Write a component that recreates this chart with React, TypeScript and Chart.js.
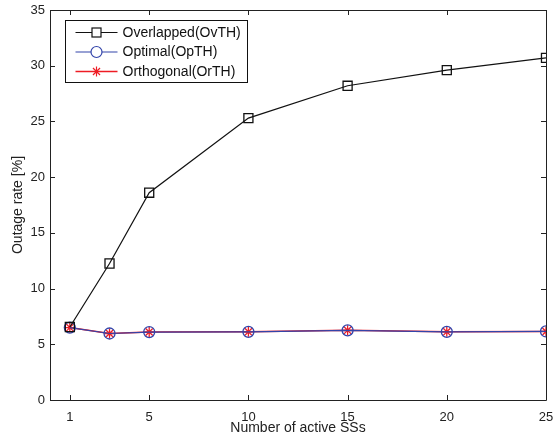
import React, { useEffect, useRef } from "react";
import { Chart, registerables } from "chart.js";

Chart.register(...registerables);

const xValues = [1, 3, 5, 10, 15, 20, 25];
const overlapped = [6.55, 12.25, 18.6, 25.3, 28.2, 29.6, 30.7];
const optimal = [6.5, 5.97, 6.1, 6.12, 6.25, 6.12, 6.15];
const orthogonal = [6.5, 5.97, 6.1, 6.12, 6.25, 6.12, 6.15];
const xTicks = [1, 5, 10, 15, 20, 25];
const yTicks = [0, 5, 10, 15, 20, 25, 30, 35];
const seriesNames = ["Overlapped(OvTH)", "Optimal(OpTH)", "Orthogonal(OrTH)"];

const FONT = "'Liberation Sans', Arial, Helvetica, sans-serif";
const BLUE = "#3344aa";
const RED = "#ee1c24";

const zeroPad = (s: any) => {
  s.paddingLeft = 0;
  s.paddingRight = 0;
  s.paddingTop = 0;
  s.paddingBottom = 0;
};

const framePlugin = {
  id: "frameAndLegend",
  afterDraw(chart: any) {
    const ctx = chart.ctx;
    const { left, right, top, bottom } = chart.chartArea;
    const xs = chart.scales.x;
    const ys = chart.scales.y;
    ctx.save();
    ctx.strokeStyle = "#222";
    ctx.lineWidth = 1;
    ctx.beginPath();
    ctx.rect(Math.round(left) + 0.5, Math.round(top) + 0.5, Math.round(right - left), Math.round(bottom - top));
    ctx.stroke();
    const tl = 5;
    ctx.beginPath();
    xTicks.forEach((v) => {
      const px = Math.round(xs.getPixelForValue(v)) + 0.5;
      ctx.moveTo(px, bottom);
      ctx.lineTo(px, bottom - tl);
      ctx.moveTo(px, top);
      ctx.lineTo(px, top + tl);
    });
    yTicks.forEach((v) => {
      const py = Math.round(ys.getPixelForValue(v)) + 0.5;
      ctx.moveTo(left, py);
      ctx.lineTo(left + tl, py);
      ctx.moveTo(right, py);
      ctx.lineTo(right - tl, py);
    });
    ctx.stroke();

    // legend
    const bx = Math.round(left) + 15.5;
    const by = Math.round(top) + 10.5;
    const bw = 182;
    const bh = 62;
    ctx.fillStyle = "#fff";
    ctx.fillRect(bx, by, bw, bh);
    ctx.strokeStyle = "#111";
    ctx.lineWidth = 1;
    ctx.strokeRect(bx, by, bw, bh);
    const rows = [
      { color: "#111", style: "rect" },
      { color: BLUE, style: "circle" },
      { color: RED, style: "star" },
    ];
    rows.forEach((r, i) => {
      const cy = by + 12 + i * 19.5;
      const lx0 = bx + 10;
      const lx1 = bx + 52;
      const mx = (lx0 + lx1) / 2;
      ctx.strokeStyle = r.color;
      ctx.lineWidth = i === 2 ? 1.5 : 1.2;
      ctx.beginPath();
      ctx.moveTo(lx0, cy);
      ctx.lineTo(lx1, cy);
      ctx.stroke();
      ctx.lineWidth = 1.2;
      ctx.beginPath();
      if (r.style === "rect") {
        ctx.fillStyle = "#fff";
        ctx.fillRect(mx - 4.5, cy - 4.5, 9, 9);
        ctx.strokeRect(mx - 4.5, cy - 4.5, 9, 9);
      } else if (r.style === "circle") {
        ctx.fillStyle = "#fff";
        ctx.arc(mx, cy, 5.5, 0, Math.PI * 2);
        ctx.fill();
        ctx.stroke();
      } else {
        const s = 5;
        const d = s * Math.SQRT1_2;
        ctx.moveTo(mx - s, cy);
        ctx.lineTo(mx + s, cy);
        ctx.moveTo(mx, cy - s);
        ctx.lineTo(mx, cy + s);
        ctx.moveTo(mx - d, cy - d);
        ctx.lineTo(mx + d, cy + d);
        ctx.moveTo(mx - d, cy + d);
        ctx.lineTo(mx + d, cy - d);
        ctx.stroke();
      }
      ctx.fillStyle = "#111";
      ctx.font = `14px ${FONT}`;
      ctx.textBaseline = "middle";
      ctx.textAlign = "left";
      ctx.fillText(seriesNames[i], bx + 57, cy + 0.5);
    });
    ctx.restore();
  },
};

export default function App() {
  const ref = useRef<HTMLCanvasElement | null>(null);
  useEffect(() => {
    if (!ref.current) return;
    const mk = (vals: number[]) => xValues.map((x, i) => ({ x, y: vals[i] }));
    const chart = new Chart(ref.current, {
      type: "line",
      data: {
        datasets: [
          {
            label: seriesNames[0],
            data: mk(overlapped),
            borderColor: "#111",
            borderWidth: 1.2,
            pointStyle: "rect",
            pointRadius: 6.4,
            pointBorderColor: "#111",
            pointBackgroundColor: "rgba(0,0,0,0)",
            pointBorderWidth: 1.3,
            tension: 0,
          },
          {
            label: seriesNames[1],
            data: mk(optimal),
            borderColor: BLUE,
            borderWidth: 1.2,
            pointStyle: "circle",
            pointRadius: 5.5,
            pointBorderColor: BLUE,
            pointBackgroundColor: "rgba(0,0,0,0)",
            pointBorderWidth: 1.3,
            tension: 0,
          },
          {
            label: seriesNames[2],
            data: mk(orthogonal),
            borderColor: RED,
            borderWidth: 1.5,
            pointStyle: "star",
            pointRadius: 5,
            pointBorderColor: RED,
            pointBackgroundColor: RED,
            pointBorderWidth: 1.3,
            tension: 0,
          },
        ],
      },
      options: {
        responsive: false,
        animation: false,
        layout: { padding: { top: 10, right: 8, left: 0, bottom: 0 } },
        plugins: { legend: { display: false }, tooltip: { enabled: false } },
        scales: {
          x: {
            type: "linear",
            min: 0,
            max: 25,
            afterFit: (s: any) => {
              s.height = 43;
              zeroPad(s);
            },
            afterBuildTicks: (s: any) => {
              s.ticks = xTicks.map((v) => ({ value: v }));
            },
            grid: { display: false, drawTicks: false },
            border: { display: false },
            ticks: { color: "#222", font: { family: FONT, size: 13 }, padding: 10, maxRotation: 0, autoSkip: false },
            title: {
              display: true,
              text: "Number of active SSs",
              color: "#222",
              font: { family: FONT, size: 14 },
              padding: { top: 0, bottom: 6 },
            },
          },
          y: {
            type: "linear",
            min: 0,
            max: 35,
            afterFit: (s: any) => {
              s.width = 50;
              zeroPad(s);
            },
            afterBuildTicks: (s: any) => {
              s.ticks = yTicks.map((v) => ({ value: v }));
            },
            grid: { display: false, drawTicks: false },
            border: { display: false },
            ticks: { color: "#222", font: { family: FONT, size: 13 }, padding: 5 },
            title: {
              display: true,
              text: "Outage rate [%]",
              color: "#222",
              font: { family: FONT, size: 14 },
              padding: { top: 9.5, bottom: 0 },
            },
          },
        },
      },
      plugins: [framePlugin],
    });
    return () => chart.destroy();
  }, []);
  return (
    <div style={{ position: "fixed", left: 0, top: 0, width: 554, height: 443, background: "#fff" }}>
      <canvas ref={ref} width={554} height={443} style={{ display: "block" }} />
    </div>
  );
}
